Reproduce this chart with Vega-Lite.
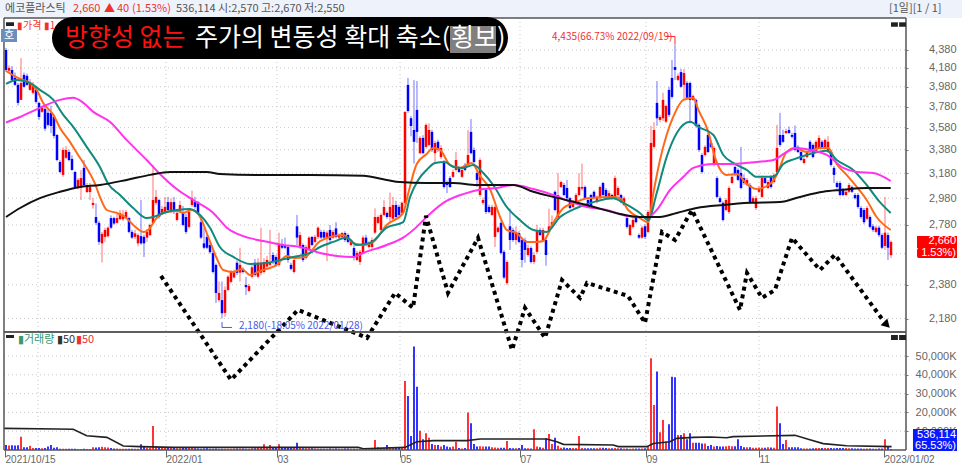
{
  "$schema": "https://vega.github.io/schema/vega-lite/v6.json",
  "padding": 0,
  "background": "#ffffff",
  "bounds": "flush",
  "spacing": 0,
  "config": {
    "view": {"stroke": null},
    "concat": {"spacing": 0},
    "text": {"font": "Noto Sans CJK KR"},
    "axis": {"labelFont": "Liberation Sans"}
  },
  "datasets": {
    "bars": [
      {"i":0,"o":4380,"h":4403,"l":4140,"c":4158,"v":2700},
      {"i":1,"o":4150,"h":4210,"l":4130,"c":4180,"v":2400},
      {"i":2,"o":4158,"h":4200,"l":4030,"c":4052,"v":2500},
      {"i":3,"o":4075,"h":4130,"l":3990,"c":4000,"v":2400},
      {"i":4,"o":4000,"h":4020,"l":3790,"c":3817,"v":2500},
      {"i":5,"o":3847,"h":4290,"l":3847,"c":4020,"v":7000},
      {"i":6,"o":4105,"h":4130,"l":3970,"c":3980,"v":1500},
      {"i":7,"o":4095,"h":4120,"l":3990,"c":4000,"v":1500},
      {"i":8,"o":3948,"h":4060,"l":3940,"c":4020,"v":2300},
      {"i":9,"o":3918,"h":4030,"l":3900,"c":4000,"v":1000},
      {"i":10,"o":3948,"h":3990,"l":3810,"c":3827,"v":1000},
      {"i":11,"o":3817,"h":3830,"l":3650,"c":3680,"v":1000},
      {"i":12,"o":3730,"h":3790,"l":3720,"c":3768,"v":900},
      {"i":13,"o":3758,"h":3790,"l":3550,"c":3570,"v":1100},
      {"i":14,"o":3720,"h":3750,"l":3590,"c":3605,"v":1800},
      {"i":15,"o":3720,"h":3790,"l":3530,"c":3595,"v":2700},
      {"i":16,"o":3680,"h":3700,"l":3480,"c":3503,"v":1200},
      {"i":17,"o":3512,"h":3520,"l":3280,"c":3291,"v":1400},
      {"i":18,"o":3274,"h":3290,"l":3180,"c":3190,"v":700},
      {"i":19,"o":3166,"h":3400,"l":3150,"c":3378,"v":700},
      {"i":20,"o":3310,"h":3410,"l":3300,"c":3378,"v":700},
      {"i":21,"o":3360,"h":3380,"l":3280,"c":3291,"v":600},
      {"i":22,"o":3300,"h":3330,"l":3200,"c":3207,"v":600},
      {"i":23,"o":3190,"h":3200,"l":3060,"c":3068,"v":600},
      {"i":24,"o":3068,"h":3140,"l":3050,"c":3125,"v":500},
      {"i":25,"o":3068,"h":3207,"l":2966,"c":3140,"v":500},
      {"i":26,"o":3224,"h":3290,"l":3070,"c":3084,"v":600},
      {"i":27,"o":3028,"h":3100,"l":3020,"c":3084,"v":500},
      {"i":28,"o":3028,"h":3100,"l":2966,"c":3068,"v":500},
      {"i":29,"o":2928,"h":2980,"l":2900,"c":2944,"v":1500},
      {"i":30,"o":2838,"h":2940,"l":2780,"c":2795,"v":1300},
      {"i":31,"o":2795,"h":2810,"l":2640,"c":2660,"v":1500},
      {"i":32,"o":2650,"h":2730,"l":2522,"c":2716,"v":1700},
      {"i":33,"o":2695,"h":2760,"l":2660,"c":2744,"v":1500},
      {"i":34,"o":2700,"h":2770,"l":2690,"c":2760,"v":1300},
      {"i":35,"o":2830,"h":2850,"l":2750,"c":2760,"v":1000},
      {"i":36,"o":2830,"h":2840,"l":2780,"c":2790,"v":800},
      {"i":37,"o":2795,"h":2860,"l":2790,"c":2830,"v":800},
      {"i":38,"o":2822,"h":2890,"l":2815,"c":2868,"v":700},
      {"i":39,"o":2822,"h":2890,"l":2810,"c":2853,"v":700},
      {"i":40,"o":2830,"h":2890,"l":2822,"c":2875,"v":700},
      {"i":41,"o":2830,"h":2840,"l":2720,"c":2730,"v":700},
      {"i":42,"o":2730,"h":2745,"l":2680,"c":2690,"v":700},
      {"i":43,"o":2695,"h":2745,"l":2680,"c":2720,"v":700},
      {"i":44,"o":2650,"h":2720,"l":2630,"c":2708,"v":700},
      {"i":45,"o":2700,"h":2966,"l":2640,"c":2650,"v":3000},
      {"i":46,"o":2695,"h":2710,"l":2558,"c":2650,"v":1700},
      {"i":47,"o":2690,"h":2750,"l":2660,"c":2730,"v":1200},
      {"i":48,"o":2708,"h":2790,"l":2700,"c":2780,"v":1200},
      {"i":49,"o":2795,"h":3249,"l":2790,"c":2966,"v":12800},
      {"i":50,"o":2944,"h":3044,"l":2930,"c":2990,"v":1700},
      {"i":51,"o":2966,"h":2975,"l":2825,"c":2838,"v":1500},
      {"i":52,"o":2868,"h":2920,"l":2860,"c":2898,"v":1500},
      {"i":53,"o":2875,"h":2990,"l":2865,"c":2913,"v":1400},
      {"i":54,"o":2950,"h":2990,"l":2880,"c":2890,"v":1500},
      {"i":55,"o":2875,"h":2980,"l":2868,"c":2950,"v":1300},
      {"i":56,"o":2950,"h":2990,"l":2860,"c":2875,"v":1000},
      {"i":57,"o":2816,"h":2880,"l":2805,"c":2868,"v":900},
      {"i":58,"o":2875,"h":2960,"l":2868,"c":2928,"v":900},
      {"i":59,"o":2875,"h":2920,"l":2770,"c":2780,"v":1500},
      {"i":60,"o":2838,"h":2860,"l":2715,"c":2730,"v":1400},
      {"i":61,"o":2766,"h":2890,"l":2755,"c":2875,"v":1500},
      {"i":62,"o":2928,"h":3040,"l":2915,"c":2980,"v":1000},
      {"i":63,"o":2950,"h":2990,"l":2900,"c":2913,"v":900},
      {"i":64,"o":2950,"h":2960,"l":2860,"c":2868,"v":800},
      {"i":65,"o":2800,"h":2820,"l":2680,"c":2690,"v":700},
      {"i":66,"o":2650,"h":2760,"l":2610,"c":2620,"v":800},
      {"i":67,"o":2695,"h":2710,"l":2610,"c":2620,"v":900},
      {"i":68,"o":2639,"h":2655,"l":2580,"c":2590,"v":700},
      {"i":69,"o":2585,"h":2600,"l":2450,"c":2460,"v":700},
      {"i":70,"o":2506,"h":2515,"l":2270,"c":2330,"v":800},
      {"i":71,"o":2287,"h":2400,"l":2275,"c":2330,"v":600},
      {"i":72,"o":2287,"h":2400,"l":2180,"c":2210,"v":600},
      {"i":73,"o":2212,"h":2370,"l":2190,"c":2348,"v":700},
      {"i":74,"o":2348,"h":2440,"l":2340,"c":2430,"v":700},
      {"i":75,"o":2398,"h":2470,"l":2390,"c":2462,"v":700},
      {"i":76,"o":2425,"h":2475,"l":2420,"c":2462,"v":800},
      {"i":77,"o":2520,"h":2535,"l":2440,"c":2455,"v":800},
      {"i":78,"o":2456,"h":2620,"l":2400,"c":2506,"v":800},
      {"i":79,"o":2473,"h":2490,"l":2450,"c":2460,"v":800},
      {"i":80,"o":2378,"h":2428,"l":2317,"c":2365,"v":700},
      {"i":81,"o":2342,"h":2385,"l":2335,"c":2372,"v":700},
      {"i":82,"o":2430,"h":2510,"l":2420,"c":2490,"v":900},
      {"i":83,"o":2520,"h":2545,"l":2430,"c":2441,"v":900},
      {"i":84,"o":2430,"h":2550,"l":2420,"c":2520,"v":1100},
      {"i":85,"o":2455,"h":2760,"l":2440,"c":2520,"v":1100},
      {"i":86,"o":2460,"h":2550,"l":2450,"c":2525,"v":3000},
      {"i":87,"o":2495,"h":2565,"l":2485,"c":2538,"v":1300},
      {"i":88,"o":2506,"h":2745,"l":2495,"c":2525,"v":2700},
      {"i":89,"o":2571,"h":2590,"l":2510,"c":2525,"v":1300},
      {"i":90,"o":2558,"h":2570,"l":2495,"c":2506,"v":1200},
      {"i":91,"o":2506,"h":2725,"l":2495,"c":2639,"v":3000},
      {"i":92,"o":2645,"h":2680,"l":2610,"c":2620,"v":1200},
      {"i":93,"o":2639,"h":2690,"l":2610,"c":2620,"v":1100},
      {"i":94,"o":2625,"h":2640,"l":2520,"c":2538,"v":1000},
      {"i":95,"o":2506,"h":2520,"l":2470,"c":2480,"v":1000},
      {"i":96,"o":2460,"h":2550,"l":2450,"c":2538,"v":1000},
      {"i":97,"o":2770,"h":2853,"l":2639,"c":2690,"v":3900},
      {"i":98,"o":2625,"h":2730,"l":2610,"c":2708,"v":1000},
      {"i":99,"o":2639,"h":2650,"l":2525,"c":2538,"v":900},
      {"i":100,"o":2551,"h":2640,"l":2540,"c":2625,"v":900},
      {"i":101,"o":2605,"h":2700,"l":2595,"c":2690,"v":900},
      {"i":102,"o":2695,"h":2700,"l":2630,"c":2639,"v":900},
      {"i":103,"o":2660,"h":2710,"l":2650,"c":2695,"v":800},
      {"i":104,"o":2695,"h":2770,"l":2680,"c":2760,"v":700},
      {"i":105,"o":2730,"h":2745,"l":2680,"c":2690,"v":700},
      {"i":106,"o":2730,"h":2745,"l":2680,"c":2690,"v":700},
      {"i":107,"o":2690,"h":2740,"l":2530,"c":2725,"v":700},
      {"i":108,"o":2744,"h":2780,"l":2660,"c":2673,"v":800},
      {"i":109,"o":2690,"h":2745,"l":2680,"c":2730,"v":700},
      {"i":110,"o":2755,"h":2800,"l":2685,"c":2695,"v":800},
      {"i":111,"o":2690,"h":2720,"l":2680,"c":2708,"v":700},
      {"i":112,"o":2695,"h":2730,"l":2685,"c":2722,"v":700},
      {"i":113,"o":2722,"h":2735,"l":2660,"c":2673,"v":800},
      {"i":114,"o":2708,"h":2720,"l":2650,"c":2660,"v":800},
      {"i":115,"o":2639,"h":2680,"l":2630,"c":2673,"v":600},
      {"i":116,"o":2618,"h":2640,"l":2535,"c":2558,"v":600},
      {"i":117,"o":2538,"h":2600,"l":2530,"c":2585,"v":700},
      {"i":118,"o":2525,"h":2605,"l":2505,"c":2592,"v":600},
      {"i":119,"o":2585,"h":2705,"l":2575,"c":2690,"v":800},
      {"i":120,"o":2690,"h":2710,"l":2630,"c":2639,"v":700},
      {"i":121,"o":2625,"h":2665,"l":2615,"c":2650,"v":800},
      {"i":122,"o":2625,"h":2690,"l":2610,"c":2673,"v":800},
      {"i":123,"o":2725,"h":2902,"l":2715,"c":2838,"v":5300},
      {"i":124,"o":2795,"h":2850,"l":2785,"c":2838,"v":1500},
      {"i":125,"o":2744,"h":2865,"l":2730,"c":2853,"v":1200},
      {"i":126,"o":2853,"h":2965,"l":2845,"c":2913,"v":1200},
      {"i":127,"o":2868,"h":2880,"l":2825,"c":2838,"v":2700},
      {"i":128,"o":2838,"h":3025,"l":2790,"c":2913,"v":1500},
      {"i":129,"o":2825,"h":2990,"l":2810,"c":2928,"v":1300},
      {"i":130,"o":2928,"h":2960,"l":2830,"c":2838,"v":1200},
      {"i":131,"o":2913,"h":2930,"l":2845,"c":2853,"v":1000},
      {"i":132,"o":2868,"h":2955,"l":2860,"c":2944,"v":1000},
      {"i":133,"o":2944,"h":3730,"l":2930,"c":3730,"v":36700},
      {"i":134,"o":4000,"h":4073,"l":3720,"c":3737,"v":28700},
      {"i":135,"o":3668,"h":3690,"l":3500,"c":3595,"v":7400},
      {"i":136,"o":3558,"h":4050,"l":3260,"c":3450,"v":55000},
      {"i":137,"o":3748,"h":4040,"l":3440,"c":3540,"v":33700},
      {"i":138,"o":3350,"h":3500,"l":3340,"c":3485,"v":10300},
      {"i":139,"o":3485,"h":3510,"l":3340,"c":3350,"v":5700},
      {"i":140,"o":3405,"h":3620,"l":3390,"c":3605,"v":8900},
      {"i":141,"o":3422,"h":3620,"l":3410,"c":3558,"v":6500},
      {"i":142,"o":3540,"h":3560,"l":3360,"c":3378,"v":3200},
      {"i":143,"o":3350,"h":3460,"l":3260,"c":3440,"v":2700},
      {"i":144,"o":3450,"h":3470,"l":3360,"c":3378,"v":2700},
      {"i":145,"o":3316,"h":3420,"l":3300,"c":3395,"v":1800},
      {"i":146,"o":3274,"h":3290,"l":3055,"c":3068,"v":2700},
      {"i":147,"o":3100,"h":3120,"l":3020,"c":3084,"v":1800},
      {"i":148,"o":3140,"h":3155,"l":3060,"c":3068,"v":1500},
      {"i":149,"o":3150,"h":3210,"l":3140,"c":3190,"v":1800},
      {"i":150,"o":3207,"h":3360,"l":3195,"c":3291,"v":4400},
      {"i":151,"o":3224,"h":3240,"l":3180,"c":3190,"v":1000},
      {"i":152,"o":3150,"h":3225,"l":3140,"c":3207,"v":800},
      {"i":153,"o":3249,"h":3265,"l":3195,"c":3207,"v":1100},
      {"i":154,"o":3249,"h":3558,"l":3240,"c":3334,"v":19900},
      {"i":155,"o":3540,"h":3660,"l":3340,"c":3350,"v":14200},
      {"i":156,"o":3378,"h":3400,"l":3260,"c":3274,"v":3200},
      {"i":157,"o":3182,"h":3200,"l":3068,"c":3125,"v":1800},
      {"i":158,"o":3005,"h":3310,"l":2990,"c":3291,"v":2000},
      {"i":159,"o":2944,"h":2985,"l":2930,"c":2966,"v":1800},
      {"i":160,"o":3044,"h":3060,"l":2860,"c":2875,"v":1800},
      {"i":161,"o":2913,"h":2930,"l":2865,"c":2875,"v":1800},
      {"i":162,"o":2853,"h":2930,"l":2845,"c":2913,"v":1500},
      {"i":163,"o":2695,"h":2925,"l":2625,"c":2913,"v":1300},
      {"i":164,"o":2730,"h":2770,"l":2720,"c":2760,"v":1200},
      {"i":165,"o":2795,"h":2810,"l":2575,"c":2585,"v":1200},
      {"i":166,"o":2592,"h":2605,"l":2415,"c":2425,"v":1200},
      {"i":167,"o":2390,"h":2535,"l":2380,"c":2525,"v":4800},
      {"i":168,"o":2770,"h":2900,"l":2605,"c":2673,"v":1100},
      {"i":169,"o":2744,"h":2760,"l":2660,"c":2673,"v":900},
      {"i":170,"o":2673,"h":2770,"l":2640,"c":2730,"v":900},
      {"i":171,"o":2722,"h":2735,"l":2650,"c":2660,"v":1000},
      {"i":172,"o":2673,"h":2690,"l":2490,"c":2538,"v":2700},
      {"i":173,"o":2673,"h":2690,"l":2520,"c":2605,"v":900},
      {"i":174,"o":2571,"h":2640,"l":2560,"c":2618,"v":900},
      {"i":175,"o":2618,"h":2630,"l":2515,"c":2525,"v":800},
      {"i":176,"o":2525,"h":2590,"l":2510,"c":2571,"v":11000},
      {"i":177,"o":2592,"h":2780,"l":2580,"c":2744,"v":1800},
      {"i":178,"o":2744,"h":2760,"l":2700,"c":2708,"v":1400},
      {"i":179,"o":2673,"h":2760,"l":2660,"c":2744,"v":1200},
      {"i":180,"o":2673,"h":2690,"l":2500,"c":2571,"v":6200},
      {"i":181,"o":2730,"h":2900,"l":2720,"c":2770,"v":8500},
      {"i":182,"o":2766,"h":2850,"l":2755,"c":2800,"v":3200},
      {"i":183,"o":3030,"h":3040,"l":2880,"c":2890,"v":6500},
      {"i":184,"o":2838,"h":3182,"l":2825,"c":3005,"v":2300},
      {"i":185,"o":3068,"h":3120,"l":3060,"c":3108,"v":1200},
      {"i":186,"o":3084,"h":3100,"l":2995,"c":3005,"v":1300},
      {"i":187,"o":3060,"h":3125,"l":2970,"c":2980,"v":1000},
      {"i":188,"o":2980,"h":2990,"l":2895,"c":2905,"v":1000},
      {"i":189,"o":2913,"h":2965,"l":2905,"c":2950,"v":1100},
      {"i":190,"o":2950,"h":3020,"l":2940,"c":3005,"v":1000},
      {"i":191,"o":3005,"h":3180,"l":2995,"c":3068,"v":7400},
      {"i":192,"o":3055,"h":3260,"l":3040,"c":3068,"v":1000},
      {"i":193,"o":3068,"h":3080,"l":2970,"c":2980,"v":900},
      {"i":194,"o":2966,"h":2980,"l":2905,"c":2913,"v":900},
      {"i":195,"o":3005,"h":3015,"l":2905,"c":2913,"v":900},
      {"i":196,"o":3030,"h":3040,"l":2970,"c":2980,"v":900},
      {"i":197,"o":2950,"h":3000,"l":2940,"c":2990,"v":900},
      {"i":198,"o":2980,"h":3080,"l":2970,"c":3068,"v":1200},
      {"i":199,"o":3100,"h":3110,"l":2995,"c":3005,"v":1200},
      {"i":200,"o":3044,"h":3060,"l":2980,"c":2990,"v":1000},
      {"i":201,"o":2980,"h":3040,"l":2970,"c":3020,"v":900},
      {"i":202,"o":3005,"h":3015,"l":2970,"c":2980,"v":900},
      {"i":203,"o":2980,"h":3160,"l":2970,"c":3140,"v":1000},
      {"i":204,"o":3005,"h":3075,"l":2995,"c":3060,"v":900},
      {"i":205,"o":3005,"h":3015,"l":2940,"c":2950,"v":900},
      {"i":206,"o":2928,"h":2995,"l":2920,"c":2980,"v":800},
      {"i":207,"o":2830,"h":2850,"l":2755,"c":2766,"v":800},
      {"i":208,"o":2708,"h":2790,"l":2700,"c":2780,"v":700},
      {"i":209,"o":2766,"h":2830,"l":2755,"c":2816,"v":800},
      {"i":210,"o":2838,"h":2850,"l":2790,"c":2800,"v":800},
      {"i":211,"o":2708,"h":2720,"l":2680,"c":2690,"v":800},
      {"i":212,"o":2690,"h":2775,"l":2680,"c":2760,"v":800},
      {"i":213,"o":2770,"h":2785,"l":2680,"c":2695,"v":900},
      {"i":214,"o":2730,"h":2890,"l":2720,"c":2875,"v":1800},
      {"i":215,"o":2868,"h":3596,"l":2855,"c":3440,"v":48800},
      {"i":216,"o":3405,"h":3630,"l":3390,"c":3558,"v":24000},
      {"i":217,"o":3817,"h":4040,"l":3596,"c":3668,"v":41700},
      {"i":218,"o":3652,"h":3700,"l":3630,"c":3680,"v":9400},
      {"i":219,"o":3668,"h":3920,"l":3640,"c":3847,"v":16000},
      {"i":220,"o":3635,"h":3800,"l":3620,"c":3787,"v":4400},
      {"i":221,"o":3948,"h":3980,"l":3680,"c":3700,"v":13700},
      {"i":222,"o":4073,"h":4268,"l":3860,"c":3877,"v":39000},
      {"i":223,"o":4190,"h":4435,"l":4052,"c":4158,"v":38700},
      {"i":224,"o":4052,"h":4120,"l":4040,"c":4095,"v":8000},
      {"i":225,"o":4135,"h":4170,"l":3970,"c":3980,"v":8000},
      {"i":226,"o":4000,"h":4170,"l":3847,"c":4125,"v":8900},
      {"i":227,"o":4020,"h":4040,"l":3850,"c":3868,"v":5700},
      {"i":228,"o":4020,"h":4035,"l":3620,"c":3847,"v":8900},
      {"i":229,"o":3847,"h":3900,"l":3835,"c":3887,"v":3900},
      {"i":230,"o":3847,"h":3860,"l":3580,"c":3596,"v":3900},
      {"i":231,"o":3605,"h":3620,"l":3360,"c":3378,"v":3900},
      {"i":232,"o":3334,"h":3350,"l":3175,"c":3190,"v":3500},
      {"i":233,"o":3334,"h":3420,"l":3320,"c":3405,"v":3500},
      {"i":234,"o":3512,"h":3530,"l":3350,"c":3360,"v":2100},
      {"i":235,"o":3440,"h":3460,"l":3395,"c":3405,"v":2700},
      {"i":236,"o":3249,"h":3410,"l":3235,"c":3395,"v":1800},
      {"i":237,"o":3140,"h":3155,"l":2980,"c":2990,"v":2100},
      {"i":238,"o":2980,"h":2995,"l":2940,"c":2950,"v":1800},
      {"i":239,"o":2944,"h":2955,"l":2805,"c":2816,"v":1800},
      {"i":240,"o":2890,"h":2980,"l":2880,"c":2966,"v":2000},
      {"i":241,"o":2875,"h":3075,"l":2860,"c":3060,"v":2300},
      {"i":242,"o":3100,"h":3165,"l":3090,"c":3150,"v":2000},
      {"i":243,"o":3232,"h":3245,"l":3155,"c":3166,"v":2000},
      {"i":244,"o":3207,"h":3220,"l":3115,"c":3125,"v":5700},
      {"i":245,"o":3182,"h":3405,"l":3050,"c":3060,"v":2100},
      {"i":246,"o":3140,"h":3170,"l":3085,"c":3100,"v":1500},
      {"i":247,"o":3084,"h":3140,"l":3075,"c":3125,"v":1400},
      {"i":248,"o":3084,"h":3100,"l":2935,"c":2944,"v":1500},
      {"i":249,"o":2950,"h":2995,"l":2940,"c":2980,"v":1200},
      {"i":250,"o":2905,"h":3000,"l":2890,"c":2980,"v":1200},
      {"i":251,"o":3030,"h":3075,"l":3020,"c":3060,"v":1300},
      {"i":252,"o":2990,"h":3160,"l":2980,"c":3140,"v":1200},
      {"i":253,"o":3140,"h":3155,"l":3090,"c":3100,"v":1200},
      {"i":254,"o":3060,"h":3125,"l":3050,"c":3108,"v":1400},
      {"i":255,"o":3150,"h":3165,"l":3055,"c":3068,"v":1300},
      {"i":256,"o":3108,"h":3180,"l":3095,"c":3166,"v":1200},
      {"i":257,"o":3190,"h":3605,"l":3175,"c":3395,"v":23200},
      {"i":258,"o":3512,"h":3720,"l":3405,"c":3422,"v":14200},
      {"i":259,"o":3512,"h":3560,"l":3440,"c":3450,"v":3200},
      {"i":260,"o":3530,"h":3570,"l":3520,"c":3548,"v":5300},
      {"i":261,"o":3558,"h":3590,"l":3520,"c":3530,"v":1500},
      {"i":262,"o":3512,"h":3530,"l":3480,"c":3495,"v":1400},
      {"i":263,"o":3530,"h":3600,"l":3365,"c":3378,"v":1500},
      {"i":264,"o":3405,"h":3420,"l":3350,"c":3360,"v":1500},
      {"i":265,"o":3360,"h":3375,"l":3280,"c":3291,"v":900},
      {"i":266,"o":3265,"h":3315,"l":3255,"c":3300,"v":800},
      {"i":267,"o":3316,"h":3375,"l":3305,"c":3360,"v":800},
      {"i":268,"o":3450,"h":3465,"l":3350,"c":3360,"v":800},
      {"i":269,"o":3422,"h":3435,"l":3305,"c":3316,"v":900},
      {"i":270,"o":3360,"h":3465,"l":3350,"c":3450,"v":1000},
      {"i":271,"o":3395,"h":3510,"l":3385,"c":3485,"v":1000},
      {"i":272,"o":3450,"h":3465,"l":3385,"c":3395,"v":1000},
      {"i":273,"o":3395,"h":3480,"l":3385,"c":3467,"v":1000},
      {"i":274,"o":3360,"h":3500,"l":3350,"c":3450,"v":1100},
      {"i":275,"o":3360,"h":3375,"l":3235,"c":3249,"v":1000},
      {"i":276,"o":3224,"h":3240,"l":3100,"c":3166,"v":900},
      {"i":277,"o":3100,"h":3115,"l":3055,"c":3068,"v":1000},
      {"i":278,"o":3100,"h":3115,"l":2995,"c":3005,"v":1000},
      {"i":279,"o":3044,"h":3060,"l":2995,"c":3005,"v":1100},
      {"i":280,"o":3005,"h":3040,"l":2995,"c":3030,"v":1000},
      {"i":281,"o":3030,"h":3100,"l":3020,"c":3084,"v":900},
      {"i":282,"o":3068,"h":3080,"l":3020,"c":3030,"v":900},
      {"i":283,"o":3005,"h":3020,"l":2970,"c":2980,"v":800},
      {"i":284,"o":3005,"h":3020,"l":2900,"c":2913,"v":800},
      {"i":285,"o":2905,"h":2920,"l":2825,"c":2838,"v":800},
      {"i":286,"o":2890,"h":2905,"l":2785,"c":2800,"v":700},
      {"i":287,"o":2825,"h":2920,"l":2815,"c":2905,"v":800},
      {"i":288,"o":2838,"h":2850,"l":2755,"c":2766,"v":800},
      {"i":289,"o":2770,"h":2785,"l":2730,"c":2744,"v":700},
      {"i":290,"o":2730,"h":2775,"l":2720,"c":2760,"v":700},
      {"i":291,"o":2760,"h":2775,"l":2695,"c":2708,"v":800},
      {"i":292,"o":2708,"h":2720,"l":2610,"c":2620,"v":800},
      {"i":293,"o":2632,"h":2990,"l":2605,"c":2725,"v":5700},
      {"i":294,"o":2708,"h":2725,"l":2538,"c":2620,"v":1800},
      {"i":295,"o":2570,"h":2670,"l":2550,"c":2660,"v":536}
    ],
    "ma": [
      {"ma":"a","i":0,"p":4147},{"ma":"a","i":4.7,"p":4062},{"ma":"a","i":8,"p":4020},{"ma":"a","i":10.2,"p":3948},{"ma":"a","i":12.4,"p":3817},{"ma":"a","i":15.8,"p":3700},{"ma":"a","i":18,"p":3577},{"ma":"a","i":21.3,"p":3450},{"ma":"a","i":24.7,"p":3308},{"ma":"a","i":25.8,"p":3266},{"ma":"a","i":29.7,"p":3092},{"ma":"a","i":31.3,"p":2990},{"ma":"a","i":33.6,"p":2890},{"ma":"a","i":36.9,"p":2868},{"ma":"a","i":39.7,"p":2838},{"ma":"a","i":42.4,"p":2780},{"ma":"a","i":45.8,"p":2730},{"ma":"a","i":47.4,"p":2744},{"ma":"a","i":50.2,"p":2830},{"ma":"a","i":53.6,"p":2875},{"ma":"a","i":56.9,"p":2883},{"ma":"a","i":59.1,"p":2868},{"ma":"a","i":61.9,"p":2890},{"ma":"a","i":64.7,"p":2838},{"ma":"a","i":67.4,"p":2695},{"ma":"a","i":70.2,"p":2551},{"ma":"a","i":72.4,"p":2473},{"ma":"a","i":75.8,"p":2460},{"ma":"a","i":78.6,"p":2480},{"ma":"a","i":81.3,"p":2441},{"ma":"a","i":84.7,"p":2467},{"ma":"a","i":90.2,"p":2506},{"ma":"a","i":93.6,"p":2565},{"ma":"a","i":96.3,"p":2551},{"ma":"a","i":99.7,"p":2558},{"ma":"a","i":104.7,"p":2666},{"ma":"a","i":112.4,"p":2708},{"ma":"a","i":115.8,"p":2652},{"ma":"a","i":119.1,"p":2639},{"ma":"a","i":122.4,"p":2660},{"ma":"a","i":126.9,"p":2780},{"ma":"a","i":132.4,"p":2868},{"ma":"a","i":134.1,"p":3020},{"ma":"a","i":136.9,"p":3257},{"ma":"a","i":140.2,"p":3342},{"ma":"a","i":142.4,"p":3395},{"ma":"a","i":144.7,"p":3378},{"ma":"a","i":148,"p":3249},{"ma":"a","i":151.3,"p":3224},{"ma":"a","i":155.2,"p":3266},{"ma":"a","i":158,"p":3158},{"ma":"a","i":161.3,"p":3052},{"ma":"a","i":164.7,"p":2838},{"ma":"a","i":166.9,"p":2744},{"ma":"a","i":170.2,"p":2722},{"ma":"a","i":173.6,"p":2660},{"ma":"a","i":176.9,"p":2660},{"ma":"a","i":179.1,"p":2666},{"ma":"a","i":182.4,"p":2795},{"ma":"a","i":185.8,"p":2905},{"ma":"a","i":190.2,"p":2950},{"ma":"a","i":193.6,"p":2980},{"ma":"a","i":202.4,"p":2990},{"ma":"a","i":204.7,"p":2980},{"ma":"a","i":207.4,"p":2890},{"ma":"a","i":211.3,"p":2830},{"ma":"a","i":214.1,"p":2800},{"ma":"a","i":215.8,"p":3020},{"ma":"a","i":218,"p":3291},{"ma":"a","i":220.2,"p":3512},{"ma":"a","i":222.4,"p":3680},{"ma":"a","i":225.8,"p":3847},{"ma":"a","i":229.1,"p":3868},{"ma":"a","i":230.8,"p":3748},{"ma":"a","i":234.1,"p":3540},{"ma":"a","i":236.3,"p":3316},{"ma":"a","i":240.2,"p":3166},{"ma":"a","i":243.6,"p":3174},{"ma":"a","i":246.9,"p":3092},{"ma":"a","i":250.2,"p":3052},{"ma":"a","i":254.7,"p":3092},{"ma":"a","i":256.9,"p":3166},{"ma":"a","i":260.2,"p":3360},{"ma":"a","i":263,"p":3395},{"ma":"a","i":266.9,"p":3360},{"ma":"a","i":271.3,"p":3395},{"ma":"a","i":274.1,"p":3395},{"ma":"a","i":276.9,"p":3257},{"ma":"a","i":280.2,"p":3166},{"ma":"a","i":283.6,"p":3068},{"ma":"a","i":286.9,"p":2966},{"ma":"a","i":290.2,"p":2838},{"ma":"a","i":294.9,"p":2744},
      {"ma":"b","i":0,"p":4010},{"ma":"b","i":3.6,"p":4052},{"ma":"b","i":8,"p":4020},{"ma":"b","i":11.3,"p":3948},{"ma":"b","i":15.8,"p":3847},{"ma":"b","i":19.1,"p":3700},{"ma":"b","i":22.4,"p":3587},{"ma":"b","i":26.9,"p":3405},{"ma":"b","i":31.3,"p":3232},{"ma":"b","i":34.1,"p":3092},{"ma":"b","i":38,"p":3005},{"ma":"b","i":42.4,"p":2905},{"ma":"b","i":46.9,"p":2830},{"ma":"b","i":49.1,"p":2838},{"ma":"b","i":52.4,"p":2868},{"ma":"b","i":56.9,"p":2890},{"ma":"b","i":61.3,"p":2898},{"ma":"b","i":64.7,"p":2853},{"ma":"b","i":68,"p":2760},{"ma":"b","i":71.3,"p":2625},{"ma":"b","i":75.8,"p":2558},{"ma":"b","i":81.3,"p":2512},{"ma":"b","i":86.9,"p":2518},{"ma":"b","i":91.3,"p":2538},{"ma":"b","i":95.8,"p":2558},{"ma":"b","i":101.3,"p":2585},{"ma":"b","i":104.7,"p":2625},{"ma":"b","i":109.1,"p":2660},{"ma":"b","i":113.6,"p":2690},{"ma":"b","i":116.9,"p":2639},{"ma":"b","i":121.3,"p":2652},{"ma":"b","i":126.9,"p":2760},{"ma":"b","i":132.4,"p":2800},{"ma":"b","i":134.7,"p":2990},{"ma":"b","i":137.4,"p":3125},{"ma":"b","i":140.2,"p":3207},{"ma":"b","i":143,"p":3266},{"ma":"b","i":146.3,"p":3274},{"ma":"b","i":149.1,"p":3232},{"ma":"b","i":152.4,"p":3224},{"ma":"b","i":155.8,"p":3249},{"ma":"b","i":159.1,"p":3182},{"ma":"b","i":162.4,"p":3084},{"ma":"b","i":166.9,"p":2913},{"ma":"b","i":171.3,"p":2816},{"ma":"b","i":175.8,"p":2744},{"ma":"b","i":180.2,"p":2730},{"ma":"b","i":184.7,"p":2838},{"ma":"b","i":190.2,"p":2905},{"ma":"b","i":195.8,"p":2950},{"ma":"b","i":202.4,"p":2980},{"ma":"b","i":205.8,"p":2944},{"ma":"b","i":211.3,"p":2868},{"ma":"b","i":214.1,"p":2816},{"ma":"b","i":216.9,"p":3020},{"ma":"b","i":220.2,"p":3316},{"ma":"b","i":223.6,"p":3530},{"ma":"b","i":228,"p":3635},{"ma":"b","i":231.3,"p":3580},{"ma":"b","i":235.8,"p":3512},{"ma":"b","i":239.1,"p":3334},{"ma":"b","i":242.4,"p":3266},{"ma":"b","i":246.9,"p":3207},{"ma":"b","i":250.2,"p":3150},{"ma":"b","i":255.8,"p":3150},{"ma":"b","i":259.1,"p":3257},{"ma":"b","i":263,"p":3300},{"ma":"b","i":266.9,"p":3334},{"ma":"b","i":273.6,"p":3370},{"ma":"b","i":276.9,"p":3291},{"ma":"b","i":282.4,"p":3207},{"ma":"b","i":286.9,"p":3084},{"ma":"b","i":291.3,"p":2950},{"ma":"b","i":294.9,"p":2868},
      {"ma":"c","i":0,"p":3628},{"ma":"c","i":4.7,"p":3680},{"ma":"c","i":11.3,"p":3768},{"ma":"c","i":18,"p":3847},{"ma":"c","i":22.4,"p":3868},{"ma":"c","i":25.8,"p":3817},{"ma":"c","i":29.1,"p":3729},{"ma":"c","i":34.7,"p":3633},{"ma":"c","i":40.2,"p":3467},{"ma":"c","i":46.9,"p":3291},{"ma":"c","i":51.3,"p":3174},{"ma":"c","i":56.9,"p":3052},{"ma":"c","i":62.4,"p":2966},{"ma":"c","i":69.1,"p":2868},{"ma":"c","i":73.6,"p":2760},{"ma":"c","i":79.1,"p":2700},{"ma":"c","i":85.8,"p":2666},{"ma":"c","i":92.4,"p":2639},{"ma":"c","i":98,"p":2625},{"ma":"c","i":104.7,"p":2585},{"ma":"c","i":110.2,"p":2565},{"ma":"c","i":115.8,"p":2558},{"ma":"c","i":119.1,"p":2585},{"ma":"c","i":126.9,"p":2639},{"ma":"c","i":132.4,"p":2690},{"ma":"c","i":136.9,"p":2766},{"ma":"c","i":140.2,"p":2838},{"ma":"c","i":145.8,"p":2944},{"ma":"c","i":152.4,"p":3012},{"ma":"c","i":159.1,"p":3052},{"ma":"c","i":163.6,"p":3060},{"ma":"c","i":169.1,"p":3084},{"ma":"c","i":175.8,"p":3052},{"ma":"c","i":182.4,"p":3005},{"ma":"c","i":189.1,"p":2944},{"ma":"c","i":193.6,"p":2913},{"ma":"c","i":200.2,"p":2890},{"ma":"c","i":206.9,"p":2846},{"ma":"c","i":211.3,"p":2838},{"ma":"c","i":214.1,"p":2838},{"ma":"c","i":216.9,"p":2890},{"ma":"c","i":221.3,"p":3044},{"ma":"c","i":225.8,"p":3150},{"ma":"c","i":229.1,"p":3224},{"ma":"c","i":235.8,"p":3257},{"ma":"c","i":242.4,"p":3257},{"ma":"c","i":250.2,"p":3274},{"ma":"c","i":255.8,"p":3291},{"ma":"c","i":260.2,"p":3360},{"ma":"c","i":263.6,"p":3395},{"ma":"c","i":268,"p":3378},{"ma":"c","i":273.6,"p":3334},{"ma":"c","i":279.1,"p":3224},{"ma":"c","i":283.6,"p":3190},{"ma":"c","i":289.1,"p":3182},{"ma":"c","i":294.9,"p":3116},
      {"ma":"d","i":0,"p":2838},{"ma":"d","i":4.7,"p":2905},{"ma":"d","i":11.3,"p":2980},{"ma":"d","i":18,"p":3030},{"ma":"d","i":24.7,"p":3068},{"ma":"d","i":31.3,"p":3084},{"ma":"d","i":40.2,"p":3125},{"ma":"d","i":48,"p":3166},{"ma":"d","i":54.7,"p":3190},{"ma":"d","i":66.9,"p":3190},{"ma":"d","i":71.3,"p":3174},{"ma":"d","i":83.6,"p":3166},{"ma":"d","i":101.3,"p":3166},{"ma":"d","i":119.1,"p":3158},{"ma":"d","i":126.9,"p":3125},{"ma":"d","i":131.3,"p":3108},{"ma":"d","i":140.2,"p":3100},{"ma":"d","i":149.1,"p":3100},{"ma":"d","i":156.9,"p":3084},{"ma":"d","i":169.1,"p":3084},{"ma":"d","i":175.8,"p":3030},{"ma":"d","i":182.4,"p":2990},{"ma":"d","i":193.6,"p":2928},{"ma":"d","i":204.7,"p":2860},{"ma":"d","i":211.3,"p":2838},{"ma":"d","i":218,"p":2838},{"ma":"d","i":223.6,"p":2868},{"ma":"d","i":230.2,"p":2905},{"ma":"d","i":239.1,"p":2928},{"ma":"d","i":248,"p":2944},{"ma":"d","i":258,"p":2950},{"ma":"d","i":264.7,"p":2990},{"ma":"d","i":272.4,"p":3030},{"ma":"d","i":278,"p":3044},{"ma":"d","i":286.9,"p":3060},{"ma":"d","i":294.9,"p":3060}
    ],
    "trend": [
      {"i":51.67,"p":2435},{"i":75,"p":1859},{"i":97.33,"p":2229},{"i":120.33,"p":2073},{"i":129.67,"p":2330},{"i":135.67,"p":2241},{"i":140,"p":2846},{"i":147.33,"p":2330},{"i":157.33,"p":2688},{"i":168.67,"p":2009},{"i":173,"p":2241},{"i":179.67,"p":2073},{"i":185.33,"p":2409},{"i":191.33,"p":2300},{"i":193.67,"p":2391},{"i":207.33,"p":2312},{"i":213,"p":2155},{"i":218.67,"p":2730},{"i":223,"p":2673},{"i":228.67,"p":2890},{"i":244.67,"p":2229},{"i":247,"p":2454},{"i":252,"p":2300},{"i":256.33,"p":2348},{"i":262,"p":2688},{"i":271.33,"p":2473},{"i":276.33,"p":2573},{"i":292.3,"p":2171}
    ],
    "volma": [
      {"i":-0.67,"v":11500},{"i":16.9,"v":11200},{"i":22.4,"v":11000},{"i":26.9,"v":7600},{"i":33.6,"v":6700},{"i":39.1,"v":2100},{"i":44.7,"v":1800},{"i":55.8,"v":1400},{"i":117.4,"v":1400},{"i":119.1,"v":700},{"i":133,"v":1400},{"i":136.9,"v":4400},{"i":142.4,"v":5000},{"i":153.6,"v":5000},{"i":158,"v":5850},{"i":180.2,"v":5850},{"i":183.6,"v":4400},{"i":185.8,"v":3000},{"i":202.4,"v":2700},{"i":204.1,"v":1800},{"i":213.6,"v":1800},{"i":215.8,"v":3500},{"i":221.3,"v":4400},{"i":223.6,"v":6200},{"i":229.1,"v":6700},{"i":234.7,"v":6900},{"i":240.2,"v":6500},{"i":242.4,"v":7100},{"i":263,"v":7800},{"i":267.4,"v":5700},{"i":272.4,"v":3400},{"i":280.2,"v":2300},{"i":295.2,"v":1800}
    ],
    "months": [{"i":10.67},{"i":53.33},{"i":90.33},{"i":131.33},{"i":171.33},{"i":213.33},{"i":251}],
    "sides": [{"i":-0.67},{"i":300}]
  },
  "vconcat": [
    {
      "width": 962,
      "height": 18,
      "view": {"fill": "#eef2fb", "stroke": null},
      "encoding": {
        "x": {"field": "i", "type": "quantitative", "axis": null, "scale": {"domain": [-2, 318.667], "nice": false, "zero": false}}
      },
      "layer": [
        {
          "data": {"values": [
            {"i":-0.33,"t":"에코플라스틱"},{"i":56.67,"t":"536,114"},{"i":70.67,"t":"시:2,570"},{"i":85,"t":"고:2,670"},{"i":99.33,"t":"저:2,550"},{"i":294.33,"t":"[1일][1 / 1]"}
          ]},
          "mark": {"type": "text", "align": "left", "fontSize": 11, "color": "#555555"},
          "encoding": {"text": {"field": "t"}}
        },
        {
          "data": {"values": [
            {"i":22.33,"t":"2,660"},{"i":32.67,"t":"▲"},{"i":37,"t":"40"},{"i":42,"t":"(1.53%)"}
          ]},
          "mark": {"type": "text", "align": "left", "fontSize": 11, "color": "#f03030"},
          "encoding": {"text": {"field": "t"}}
        }
      ]
    },
    {
      "width": 962,
      "height": 314,
      "encoding": {
        "x": {"field": "i", "type": "quantitative", "axis": null, "scale": {"domain": [-2, 318.667], "nice": false, "zero": false}}
      },
      "layer": [
        {
          "data": {"values": [
            {"i":-0.67,"i2":300,"p":4380},{"i":-0.67,"i2":300,"p":4180},{"i":-0.67,"i2":300,"p":3980},{"i":-0.67,"i2":300,"p":3780},{"i":-0.67,"i2":300,"p":3580},{"i":-0.67,"i2":300,"p":3380},{"i":-0.67,"i2":300,"p":3180},{"i":-0.67,"i2":300,"p":2980},{"i":-0.67,"i2":300,"p":2780},{"i":-0.67,"i2":300,"p":2580},{"i":-0.67,"i2":300,"p":2380},{"i":-0.67,"i2":300,"p":2180}
          ]},
          "mark": {"type": "rule", "color": "#c8c8c8", "strokeDash": [1, 3]},
          "encoding": {
            "x2": {"field": "i2"},
            "y": {
              "field": "p",
              "type": "quantitative",
              "scale": {"type": "log", "domain": [2105, 4759], "nice": false},
              "axis": {
                "title": null,
                "orient": "right",
                "offset": -56,
                "values": [4380, 4180, 3980, 3780, 3580, 3380, 3180, 2980, 2780, 2380, 2180],
                "format": ",",
                "domain": false,
                "ticks": true,
                "tickSize": 2,
                "tickColor": "#777777",
                "labelAlign": "right",
                "labelPadding": 48,
                "labelOverlap": false,
                "labelFontSize": 11,
                "labelColor": "#666666",
                "grid": false
              }
            }
          }
        },
        {
          "data": {"name": "months"},
          "mark": {"type": "rule", "color": "#c8c8c8", "strokeDash": [1, 3]}
        },
        {
          "data": {"name": "bars"},
          "mark": {"type": "rule", "strokeWidth": 1, "opacity": 0.55},
          "encoding": {
            "y": {"field": "l", "type": "quantitative"},
            "y2": {"field": "h"},
            "color": {"condition": {"test": "datum.c >= datum.o", "value": "#ff0000"}, "value": "#0000ff"}
          }
        },
        {
          "data": {"name": "bars"},
          "mark": {"type": "rule", "strokeWidth": 2.5},
          "encoding": {
            "y": {"field": "o", "type": "quantitative"},
            "y2": {"field": "c"},
            "color": {"condition": {"test": "datum.c >= datum.o", "value": "#ff0000"}, "value": "#0000ff"}
          }
        },
        {
          "data": {"name": "ma"},
          "mark": {"type": "line", "interpolate": "monotone", "strokeWidth": 2},
          "encoding": {
            "y": {"field": "p", "type": "quantitative"},
            "color": {"field": "ma", "type": "nominal", "legend": null, "scale": {"domain": ["d", "c", "b", "a"], "range": ["#111111", "#ff33ee", "#118a7e", "#ff6a1a"]}},
            "order": {"field": "i", "type": "quantitative"}
          }
        },
        {
          "data": {"name": "trend"},
          "mark": {"type": "line", "color": "#000000", "strokeWidth": 4, "strokeDash": [4, 4]},
          "encoding": {"y": {"field": "p", "type": "quantitative"}}
        },
        {
          "data": {"values": [{"i":293.3,"p":2150}]},
          "mark": {"type": "point", "shape": "triangle", "filled": true, "color": "#000000", "size": 90, "angle": 135, "opacity": 1},
          "encoding": {"y": {"field": "p", "type": "quantitative"}}
        },
        {
          "data": {"values": [{"i":-0.67,"i2":300,"p":4759},{"i":-0.67,"i2":300,"p":2105}]},
          "mark": {"type": "rule", "color": "#555555", "strokeWidth": 1.5},
          "encoding": {"x2": {"field": "i2"}, "y": {"field": "p", "type": "quantitative"}}
        },
        {
          "data": {"name": "sides"},
          "mark": {"type": "rule", "color": "#555555", "strokeWidth": 1.5}
        },
        {
          "data": {"values": [{"i":22.33,"i2":160.33,"p":4519}]},
          "mark": {"type": "rule", "color": "#000000", "strokeWidth": 42, "strokeCap": "round"},
          "encoding": {"x2": {"field": "i2"}, "y": {"field": "p", "type": "quantitative"}}
        },
        {
          "data": {"values": [{"i":148,"i2":163.33,"p":4662,"p2":4346}]},
          "mark": {"type": "rect", "color": "#808080"},
          "encoding": {"x2": {"field": "i2"}, "y": {"field": "p", "type": "quantitative"}, "y2": {"field": "p2"}}
        },
        {
          "data": {"values": [{"i":19.67,"p":4519,"t":"방향성 없는"}]},
          "mark": {"type": "text", "align": "left", "fontSize": 25, "color": "#ff1010"},
          "encoding": {"y": {"field": "p", "type": "quantitative"}, "text": {"field": "t"}}
        },
        {
          "data": {"values": [{"i":63,"p":4519,"t":"주가의 변동성 확대 축소("},{"i":148.33,"p":4519,"t":"횡보"},{"i":163.67,"p":4519,"t":")"}]},
          "mark": {"type": "text", "align": "left", "fontSize": 25, "color": "#ffffff"},
          "encoding": {"y": {"field": "p", "type": "quantitative"}, "text": {"field": "t"}}
        },
        {
          "data": {"values": [{"i":182,"p":4530,"t":"4,435(66.73% 2022/09/19)"},{"i":3.67,"p":4662,"t":"▮가격 ▮1"}]},
          "mark": {"type": "text", "align": "left", "fontSize": 10, "font": "Noto Sans CJK KR", "color": "#f03030"},
          "encoding": {"y": {"field": "p", "type": "quantitative"}, "text": {"field": "t"}}
        },
        {
          "data": {"values": [{"i":77.67,"p":2139,"t":"2,180(-18.05% 2022/01/28)"}]},
          "mark": {"type": "text", "align": "left", "fontSize": 10, "font": "Noto Sans CJK KR", "color": "#4a58e8"},
          "encoding": {"y": {"field": "p", "type": "quantitative"}, "text": {"field": "t"}}
        },
        {
          "data": {"values": [{"n":1,"i":220,"p":4536},{"n":2,"i":223,"p":4536},{"n":3,"i":223,"p":4440}]},
          "mark": {"type": "line", "color": "#f03030", "strokeWidth": 1},
          "encoding": {"y": {"field": "p", "type": "quantitative"}, "order": {"field": "n", "type": "quantitative"}}
        },
        {
          "data": {"values": [{"n":1,"i":72,"p":2160},{"n":2,"i":72,"p":2130},{"n":3,"i":75.33,"p":2130}]},
          "mark": {"type": "line", "color": "#4a58e8", "strokeWidth": 1},
          "encoding": {"y": {"field": "p", "type": "quantitative"}, "order": {"field": "n", "type": "quantitative"}}
        },
        {
          "data": {"values": [{"i":303.67,"i2":317,"p":2702,"p2":2552}]},
          "mark": {"type": "rect", "color": "#ff0000"},
          "encoding": {"x2": {"field": "i2"}, "y": {"field": "p", "type": "quantitative"}, "y2": {"field": "p2"}}
        },
        {
          "data": {"values": [{"i":316.67,"p":2666,"t":"2,660"},{"i":316.67,"p":2585,"t":"( 1.53%)"}]},
          "mark": {"type": "text", "align": "right", "fontSize": 11, "font": "Liberation Sans", "color": "#ffffff"},
          "encoding": {"y": {"field": "p", "type": "quantitative"}, "text": {"field": "t"}}
        },
        {
          "data": {"values": [{"i":-1.67,"i2":3.67,"p":4625,"p2":4472}]},
          "mark": {"type": "rect", "color": "#6a8fbd"},
          "encoding": {"x2": {"field": "i2"}, "y": {"field": "p", "type": "quantitative"}, "y2": {"field": "p2"}}
        },
        {
          "data": {"values": [{"i":1,"p":4545,"t":"호"}]},
          "mark": {"type": "text", "fontSize": 11, "color": "#ffffff"},
          "encoding": {"y": {"field": "p", "type": "quantitative"}, "text": {"field": "t"}}
        },
        {
          "data": {"values": [{"i":0,"i2":2.67,"p":4706,"p2":4662},{"i":295,"i2":297.3,"p":4706,"p2":4652},{"i":297.7,"i2":300,"p":4706,"p2":4652}]},
          "mark": {"type": "rect", "color": "#222222"},
          "encoding": {"x2": {"field": "i2"}, "y": {"field": "p", "type": "quantitative"}, "y2": {"field": "p2"}}
        }
      ]
    },
    {
      "width": 962,
      "height": 118,
      "encoding": {
        "x": {
          "field": "i",
          "type": "quantitative",
          "scale": {"domain": [-2, 318.667], "nice": false, "zero": false},
          "axis": {
            "title": null,
            "orient": "bottom",
            "values": [-0.33, 53.33, 90.33, 131.33, 171.33, 213.33, 251, 292.67],
            "tickCount": 8,
            "labelExpr": "datum.value < 0 ? '2021/10/15' : datum.value < 60 ? '2022/01' : datum.value < 100 ? '03' : datum.value < 140 ? '05' : datum.value < 180 ? '07' : datum.value < 220 ? '09' : datum.value < 260 ? '11' : '2023/01/02'",
            "labelAlign": "left",
            "labelBaseline": "top",
            "labelPadding": -3,
            "labelFlush": false,
            "labelOverlap": false,
            "labelBound": false,
            "labelFontSize": 10,
            "labelDx": 1,
            "labelColor": "#666666",
            "tickSize": 7,
            "tickColor": "#666666",
            "domain": false,
            "grid": false
          }
        }
      },
      "layer": [
        {
          "data": {"values": [
            {"i":-0.67,"i2":300,"v":10000},{"i":-0.67,"i2":300,"v":20000},{"i":-0.67,"i2":300,"v":30000},{"i":-0.67,"i2":300,"v":40000},{"i":-0.67,"i2":300,"v":50000}
          ]},
          "mark": {"type": "rule", "color": "#c8c8c8", "strokeDash": [1, 3]},
          "encoding": {
            "x2": {"field": "i2"},
            "y": {
              "field": "v",
              "type": "quantitative",
              "scale": {"domain": [0, 62766], "nice": false},
              "axis": {
                "title": null,
                "orient": "right",
                "offset": -56,
                "values": [10000, 20000, 30000, 40000, 50000],
                "tickCount": 5,
                "labelExpr": "format(datum.value, ',') + 'K'",
                "domain": false,
                "tickSize": 2,
                "tickColor": "#777777",
                "labelAlign": "right",
                "labelPadding": 48,
                "labelOverlap": false,
                "labelFontSize": 11,
                "labelColor": "#666666",
                "grid": false
              }
            }
          }
        },
        {
          "data": {"name": "months"},
          "mark": {"type": "rule", "color": "#c8c8c8", "strokeDash": [1, 3]}
        },
        {
          "data": {"name": "bars"},
          "mark": {"type": "rule", "strokeWidth": 1.6},
          "encoding": {
            "y": {"field": "v", "type": "quantitative"},
            "y2": {"datum": 0},
            "color": {"condition": {"test": "datum.c >= datum.o", "value": "#ff0000"}, "value": "#0000ff"}
          }
        },
        {
          "data": {"name": "volma"},
          "mark": {"type": "line", "color": "#222222", "strokeWidth": 1.6},
          "encoding": {"y": {"field": "v", "type": "quantitative"}}
        },
        {
          "data": {"values": [{"i":-0.67,"i2":300,"v":62766},{"i":-0.67,"i2":300,"v":0}]},
          "mark": {"type": "rule", "color": "#555555", "strokeWidth": 1.5},
          "encoding": {"x2": {"field": "i2"}, "y": {"field": "v", "type": "quantitative"}}
        },
        {
          "data": {"name": "sides"},
          "mark": {"type": "rule", "color": "#555555", "strokeWidth": 1.5}
        },
        {
          "data": {"values": [{"i":302.33,"i2":317,"v":11170,"v2":-530}]},
          "mark": {"type": "rect", "color": "#0a1aff"},
          "encoding": {"x2": {"field": "i2"}, "y": {"field": "v", "type": "quantitative"}, "y2": {"field": "v2"}}
        },
        {
          "data": {"values": [{"i":316.67,"v":7980,"t":"536,114"},{"i":316.67,"v":2130,"t":"( 65.53%)"}]},
          "mark": {"type": "text", "align": "right", "fontSize": 11, "font": "Liberation Sans", "color": "#ffffff"},
          "encoding": {"y": {"field": "v", "type": "quantitative"}, "text": {"field": "t"}}
        },
        {
          "data": {"values": [{"i":4,"v":58500,"t":"▮거래량"}]},
          "mark": {"type": "text", "align": "left", "fontSize": 11, "color": "#3a9a6a"},
          "encoding": {"y": {"field": "v", "type": "quantitative"}, "text": {"field": "t"}}
        },
        {
          "data": {"values": [{"i":17,"v":58500,"t":"▮50"}]},
          "mark": {"type": "text", "align": "left", "fontSize": 11, "color": "#333333"},
          "encoding": {"y": {"field": "v", "type": "quantitative"}, "text": {"field": "t"}}
        },
        {
          "data": {"values": [{"i":23.33,"v":58500,"t":"▮50"}]},
          "mark": {"type": "text", "align": "left", "fontSize": 11, "color": "#f03030"},
          "encoding": {"y": {"field": "v", "type": "quantitative"}, "text": {"field": "t"}}
        },
        {
          "data": {"values": [{"i":0,"i2":2.67,"v":61170,"v2":59570},{"i":295,"i2":297.3,"v":61170,"v2":58500},{"i":297.7,"i2":300,"v":61170,"v2":58500}]},
          "mark": {"type": "rect", "color": "#222222"},
          "encoding": {"x2": {"field": "i2"}, "y": {"field": "v", "type": "quantitative"}, "y2": {"field": "v2"}}
        }
      ]
    }
  ]
}
